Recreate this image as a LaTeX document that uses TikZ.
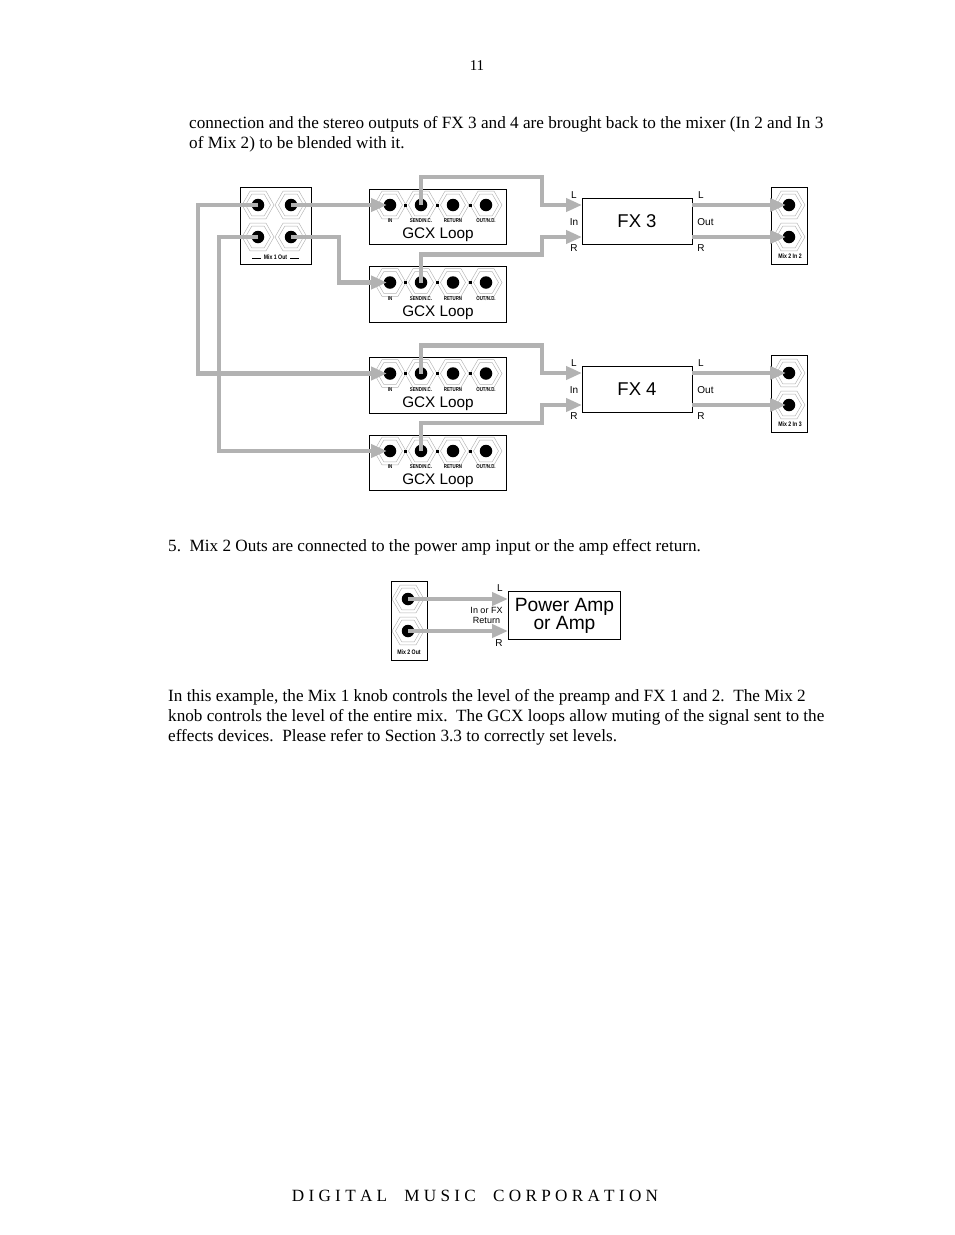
\documentclass[tikz,border=0pt]{standalone}
\usepackage{fontspec}
\setmainfont{Liberation Serif}
\setsansfont{Liberation Sans}
\usetikzlibrary{shapes.geometric,arrows.meta}

\begin{document}
\begin{tikzpicture}[x=1pt,y=-1pt,
	line/.style={anchor=base west, inner sep=0pt, font=\fontsize{17.17}{20}\selectfont},
	hexouter/.style={regular polygon, regular polygon sides=6, draw=gray!60, line width=.45pt, inner sep=0pt, minimum size=32pt},
	hexinner/.style={regular polygon, regular polygon sides=6, draw=gray!60, line width=.45pt, inner sep=0pt, minimum size=25pt},
	hole/.style={circle, fill=black, inner sep=0pt, minimum size=12.5pt},
	panel/.style={rectangle, draw=black, line width=1pt, inner sep=0pt},
	wire/.style={draw=black!30, line width=4.5pt, line cap=butt},
	tip/.style={-{Triangle[length=16pt,width=13pt]}},
	tiny/.style={inner sep=0pt, font=\fontsize{6.5}{6.5}\sffamily\bfseries, xscale=.8, transform shape},
	small/.style={inner sep=0pt, font=\fontsize{10}{11}\sffamily},
	big/.style={inner sep=0pt, align=center, font=\fontsize{19.2}{17}\sffamily}]
	\useasboundingbox (0,0) rectangle (954,1235);
	% page text
	\node[inner sep=0pt, font=\fontsize{15}{16}\selectfont] (pageno) at (477,66) {11};
	\node[line] (t1) at (189,128) {connection and the stereo outputs of FX 3 and 4 are brought back to the mixer (In 2 and In 3};
	\node[line] (t2) at (189,148) {of Mix 2) to be blended with it.};
	\node[line] (t3) at (168,551) {5.\ \ Mix 2 Outs are connected to the power amp input or the amp effect return.};
	\node[line] (t4) at (168,701) {In this example, the Mix 1 knob controls the level of the preamp and FX 1 and 2.\ \ The Mix 2};
	\node[line] (t5) at (168,721) {knob controls the level of the entire mix.\ \ The GCX loops allow muting of the signal sent to the};
	\node[line] (t6) at (168,741) {effects devices.\ \ Please refer to Section 3.3 to correctly set levels.};
	\node[inner sep=0pt, font=\fontsize{17.17}{20}\selectfont] (foot) at (475,1196) {D I G I T A L\ \ \ \ M U S I C\ \ \ \ C O R P O R A T I O N};

	% panels
	\node[panel, minimum width=71pt, minimum height=77pt] (mixa) at (275.5,225.5) {};
	\node[tiny] (mixalabel) at (275.5,257) {\rule[.3ex]{11pt}{.5pt}\ \ Mix 1 Out\ \ \rule[.3ex]{11pt}{.5pt}};
	\foreach \k/\x/\y in {a/258/205,b/291/205,c/258/237,d/291/237} {
		\node[hexouter] (mixa\k) at (\x,\y) {};
		\node[hexinner] (mixa\k i) at (\x,\y) {};
		\node[hole] (mixa\k h) at (\x,\y) {};
	}
	% gcx loops
	\foreach \n/\y in {1/189,2/266.5,3/357.5,4/435} {
		\node[panel, minimum width=137pt, minimum height=55.5pt] (gcx\n) at (437.5,\y+27.75) {};
		\node[inner sep=0pt, font=\fontsize{15.3}{16}\sffamily] (gcx\n name) at (438,\y+46) {GCX Loop};
		\foreach \k/\x/\t in {a/390/{IN},b/421/{SEND/N.C.},c/453/{RETURN},d/486/{OUT/N.D.}} {
			\node[hexouter] (gcx\n\k) at (\x,\y+16) {};
			\node[hexinner] (gcx\n\k i) at (\x,\y+16) {};
			\node[hole] (gcx\n\k h) at (\x,\y+16) {};
			\node[tiny, font=\fontsize{5.5}{5.5}\sffamily\bfseries] (gcx\n\k t) at (\x,\y+32) {\t};
		}
		\foreach \k/\x in {a/405,b/437,c/470} {
			\node[rectangle, fill=black, inner sep=0pt, minimum size=3pt] (gcx\n\k s) at (\x,\y+16) {};
		}
	}
	% effects and the returns
	\foreach \n/\y/\m in {3/198/2,4/366/3} {
		\node[panel, minimum width=110pt, minimum height=46pt, font=\fontsize{18.5}{18}\sffamily] (fx\n) at (637,\y+23) {FX \n};
		\coordinate (fx\n l) at (582,\y+7);
		\coordinate (fx\n r) at (582,\y+39);
		\coordinate (fx\n p) at (692,\y+7);
		\coordinate (fx\n q) at (692,\y+39);
		\node[small] (fx\n a) at (574,\y-3) {L};
		\node[small] (fx\n b) at (574,\y+24) {In};
		\node[small] (fx\n c) at (574,\y+50) {R};
		\node[small] (fx\n d) at (701,\y-3) {L};
		\node[small] (fx\n e) at (705.5,\y+24) {Out};
		\node[small] (fx\n f) at (701,\y+50) {R};
		\node[panel, minimum width=36pt, minimum height=77pt] (ret\n) at (789,\y+27.5) {};
		\node[tiny] (ret\n t) at (790,\y+58.5) {Mix 2 In \m};
		\foreach \k/\d in {a/7,b/39} {
			\node[hexouter] (ret\n\k) at (789,\y+\d) {};
			\node[hexinner] (ret\n\k i) at (789,\y+\d) {};
			\node[hole] (ret\n\k h) at (789,\y+\d) {};
		}
	}
	% power amp
	\node[panel, minimum width=36pt, minimum height=79pt] (mixb) at (409,620.5) {};
	\node[tiny] (mixbt) at (409,652) {Mix 2 Out};
	\foreach \k/\y in {a/599,b/631} {
		\node[hexouter] (mixb\k) at (408,\y) {};
		\node[hexinner] (mixb\k i) at (408,\y) {};
		\node[hole] (mixb\k h) at (408,\y) {};
	}
	\node[panel, minimum width=112.5pt, minimum height=47.5pt] (amp) at (564.5,615.5) {};
	\node[big] (ampname) at (564.5,615.5) {Power Amp\\or Amp};
	\coordinate (ampl) at (508,599);
	\coordinate (ampr) at (508,631);
	\node[small] (ampa) at (500,588.5) {L};
	\node[inner sep=0pt, align=center, font=\fontsize{9}{10.5}\sffamily] (ampb) at (486.5,615.5) {In or FX\\Return};
	\node[small] (ampc) at (499,643) {R};

	% connectors
	\draw[wire, tip, shorten >=3pt] (mixab.center) -- (gcx1a.center);
	\draw[wire, tip, shorten >=3pt] (mixad.center) -- ++(48,0) |- (gcx2a.center);
	\draw[wire, tip, shorten >=3pt] (mixaa.center) -- ++(-60,0) |- (gcx3a.center);
	\draw[wire, tip, shorten >=3pt] (mixac.center) -- ++(-39,0) |- (gcx4a.center);
	\draw[wire, tip] (gcx1b.center) -- ++(0,-28) -- ++(121,0) |- (fx3l);
	\draw[wire, tip] (gcx2b.center) -- ++(0,-28) -- ++(121,0) |- (fx3r);
	\draw[wire, tip] (gcx3b.center) -- ++(0,-28) -- ++(121,0) |- (fx4l);
	\draw[wire, tip] (gcx4b.center) -- ++(0,-28) -- ++(121,0) |- (fx4r);
	\foreach \n in {3,4} {
		\draw[wire, tip, shorten >=3pt] (fx\n p) -- (ret\n a.center);
		\draw[wire, tip, shorten >=3pt] (fx\n q) -- (ret\n b.center);
	}
	\draw[wire, tip] (mixba.center) -- (ampl);
	\draw[wire, tip] (mixbb.center) -- (ampr);
\end{tikzpicture}
\end{document}
